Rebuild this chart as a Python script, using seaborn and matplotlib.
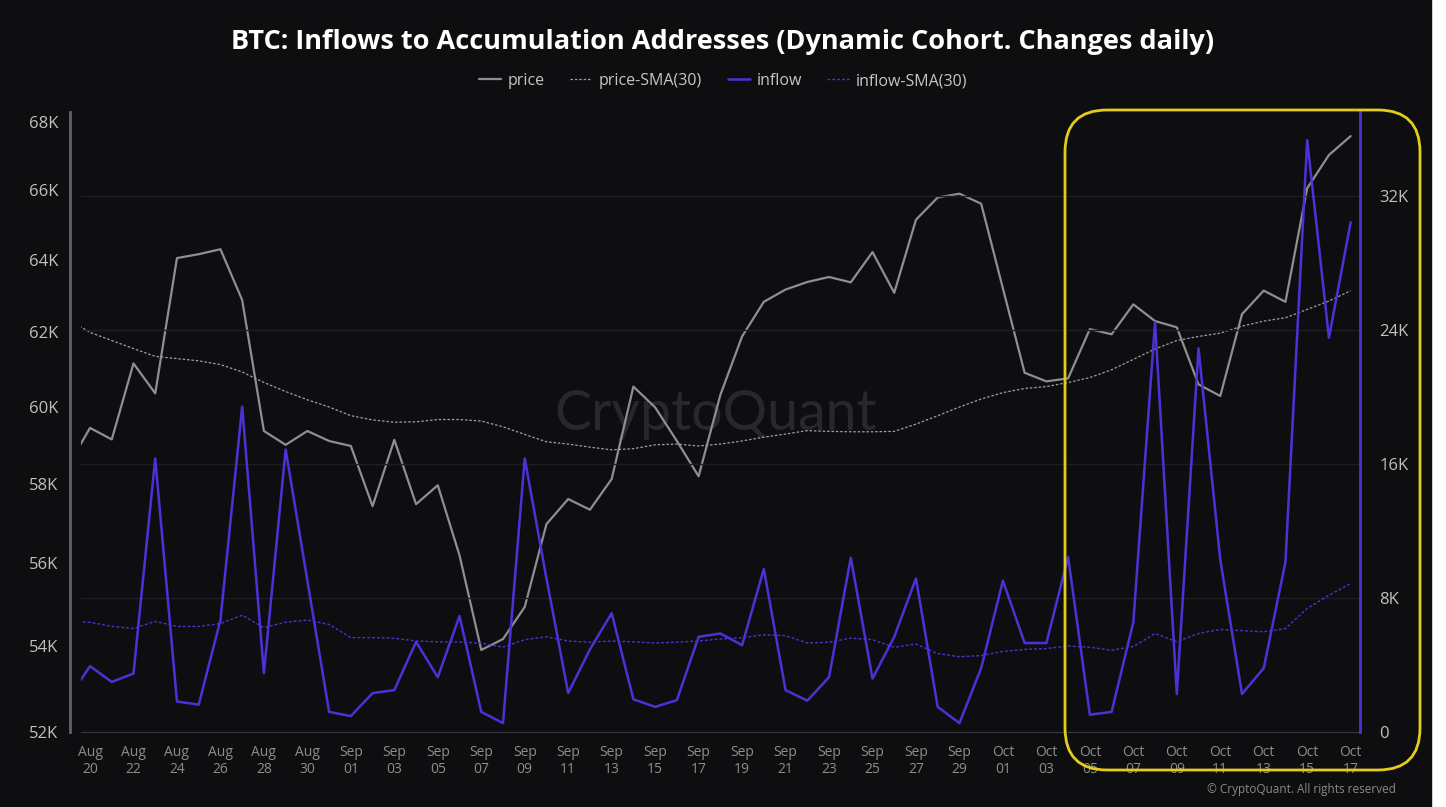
import pandas as pd
import matplotlib.pyplot as plt
import matplotlib.transforms as mtransforms
from matplotlib.patches import FancyBboxPatch, Rectangle
from matplotlib.lines import Line2D
from matplotlib.ticker import NullLocator
import seaborn as sns

# daily values Aug 19 .. Oct 17 (2024)
dates = pd.date_range('2024-08-19', '2024-10-17', freq='D')

price = [58470, 59440, 59140, 61150, 60350, 64050, 64160, 64300, 62880, 59360,
         59000, 59360, 59100, 58970, 57430, 59130, 57480, 57960, 56200, 53910,
         54170, 54940, 56980, 57610, 57340, 58120, 60530, 59980, 59100, 58190,
         60310, 61880, 62830, 63170, 63380, 63520, 63370, 64220, 63080, 65140,
         65780, 65890, 65600, 63200, 60900, 60670, 60750, 62080, 61940, 62760,
         62300, 62130, 60590, 60280, 62490, 63140, 62830, 66050, 67020, 67580]

price_sma = [62350, 61990, 61770, 61550, 61340, 61280, 61220, 61120, 60920, 60640,
             60400, 60180, 59990, 59760, 59650, 59590, 59600, 59660, 59660, 59620,
             59470, 59270, 59080, 59020, 58940, 58870, 58900, 59000, 59020, 58970,
             59020, 59100, 59200, 59280, 59370, 59350, 59340, 59340, 59350, 59540,
             59760, 59990, 60200, 60370, 60480, 60530, 60640, 60770, 60980, 61260,
             61540, 61770, 61880, 61970, 62160, 62300, 62390, 62620, 62850, 63140]

inflow = [2000, 3930, 2990, 3490, 16320, 1820, 1630, 6680, 19420, 3510,
          16860, 9030, 1200, 950, 2320, 2500, 5380, 3270, 6920, 1200,
          530, 16320, 9160, 2320, 4930, 7090, 1950, 1500, 1900, 5680,
          5880, 5180, 9730, 2500, 1870, 3270, 10400, 3190, 5680, 9160,
          1500, 530, 3810, 9030, 5310, 5310, 10450, 1030, 1200, 6550,
          24450, 2270, 22890, 10280, 2270, 3810, 10150, 35320, 23530, 30420]

inflow_sma = [6550, 6550, 6300, 6180, 6600, 6300, 6300, 6470, 6970, 6230,
              6550, 6680, 6420, 5630, 5630, 5600, 5430, 5380, 5360, 5310,
              5060, 5510, 5680, 5430, 5360, 5430, 5380, 5310, 5360, 5430,
              5550, 5630, 5800, 5750, 5310, 5360, 5600, 5510, 5060, 5250,
              4680, 4490, 4560, 4810, 4930, 4980, 5130, 5060, 4880, 5100,
              5880, 5380, 5880, 6120, 6050, 5980, 6170, 7370, 8160, 8860]

left_ticks = [52000, 54000, 56000, 58000, 60000, 62000, 64000, 66000, 68000]
right_ticks = [0, 8000, 16000, 24000, 32000]

df = pd.DataFrame({'date': dates, 'price': price, 'price_sma': price_sma,
                   'inflow': inflow, 'inflow_sma': inflow_sma})

bg = '#0e0e10'
grey = '#8e8e93'
blue = '#4a33d6'

sns.set_style('dark')
plt.rcParams['font.family'] = ['Open Sans', 'DejaVu Sans']

fig = plt.figure(figsize=(14.46, 8.07), dpi=100)
fig.patch.set_facecolor('white')
fig.add_artist(Rectangle((0, 0), 1431 / 1446, 1, transform=fig.transFigure,
                         color=bg, zorder=-5))

ax = fig.add_axes([80.7 / 1446, 1 - 732 / 807, (1360 - 80.7) / 1446, (732 - 112) / 807])
ax.set_facecolor(bg)
ax2 = ax.twinx()

# watermark, behind the lines
ax.text(716 / 1446, 1 - 430 / 807, 'CryptoQuant', ha='center', va='baseline',
        fontsize=40, color='#27272d', family='Lato', transform=fig.transFigure, zorder=0.5)

sns.lineplot(data=df, x='date', y='price', ax=ax, color=grey, lw=1.6, label='price', legend=False)
sns.lineplot(data=df, x='date', y='price_sma', ax=ax, color='#a0a0a4', lw=0.9,
             linestyle=(0, (2, 1.5)), label='price-SMA(30)', legend=False)
sns.lineplot(data=df, x='date', y='inflow', ax=ax2, color=blue, lw=1.8, label='inflow', legend=False)
sns.lineplot(data=df, x='date', y='inflow_sma', ax=ax2, color=blue, lw=1.0,
             linestyle=(0, (2, 1.5)), label='inflow-SMA(30)', legend=False)

ax.set_yscale('log')
ax.set_ylim(52000, 68300)
ax.yaxis.set_minor_locator(NullLocator())
ax.set_yticks(left_ticks)
ax.set_yticklabels([f'{v // 1000}K' for v in left_ticks])
ax2.set_ylim(0, 37000)
ax2.set_yticks(right_ticks)
ax2.set_yticklabels(['0'] + [f'{v // 1000}K' for v in right_ticks[1:]])

ax.set_xlim(pd.Timestamp('2024-08-20') - pd.Timedelta(hours=10.3),
            pd.Timestamp('2024-10-17') + pd.Timedelta(hours=10.3))
xt = pd.date_range('2024-08-20', '2024-10-17', freq='2D')
ax.set_xticks(xt)
ax.set_xticklabels([f'{d:%b}\n{d:%d}' for d in xt])

ax.set_xlabel('')
ax.set_ylabel('')
ax2.set_ylabel('')
ax.grid(False)
ax2.grid(axis='y', color='#1e1e22', lw=1)
ax2.grid(axis='x', visible=False)

ax.tick_params(axis='x', colors='#444448', length=5, width=1, labelcolor='#8d8d8d',
               labelsize=10, pad=4)
ax.tick_params(axis='y', length=0, labelcolor='#c0c0c0', labelsize=12, pad=8)
ax2.tick_params(axis='y', length=0, labelcolor='#c0c0c0', labelsize=12, pad=14)
for lab in ax.get_xticklabels():
    lab.set_linespacing(1.25)

for s in ['top', 'right']:
    ax.spines[s].set_visible(False)
ax.spines['left'].set_position(('outward', 8))
ax.spines['left'].set_color('#606066')
ax.spines['left'].set_linewidth(2)
ax.spines['bottom'].set_color('#36363a')
for s in ['top', 'left', 'bottom']:
    ax2.spines[s].set_visible(False)
ax2.spines['right'].set_color(blue)
ax2.spines['right'].set_linewidth(2)

fig.text(0.5, 1 - 42 / 807, 'BTC: Inflows to Accumulation Addresses (Dynamic Cohort. Changes daily)',
         ha='center', va='center', fontsize=19.5, fontweight='bold', color='white')

handles = [Line2D([], [], color=grey, lw=1.6),
           Line2D([], [], color='#a0a0a4', lw=0.9, ls=(0, (2, 1.5))),
           Line2D([], [], color=blue, lw=1.8),
           Line2D([], [], color=blue, lw=1.0, ls=(0, (2, 1.5)))]
fig.legend(handles, ['price', 'price-SMA(30)', 'inflow', 'inflow-SMA(30)'],
           loc='center', bbox_to_anchor=(0.5, 1 - 81 / 807), ncol=4, frameon=False,
           labelcolor='#c6c6c6', fontsize=11.5, handlelength=1.4, handletextpad=0.4,
           columnspacing=1.6)

# highlight box around October
box = FancyBboxPatch((1065, 807 - 770), 1420 - 1065, 770 - 110,
                     boxstyle='round,pad=0,rounding_size=42',
                     transform=mtransforms.IdentityTransform(),
                     fill=False, edgecolor='#e3cc1c', lw=2, zorder=10)
fig.add_artist(box)

fig.text(1396 / 1446, 1 - 790 / 807, '© CryptoQuant. All rights reserved', ha='right',
         va='center', fontsize=8.5, color='#8a8a8a')

fig.savefig('out.png', dpi=100, facecolor=fig.get_facecolor())
